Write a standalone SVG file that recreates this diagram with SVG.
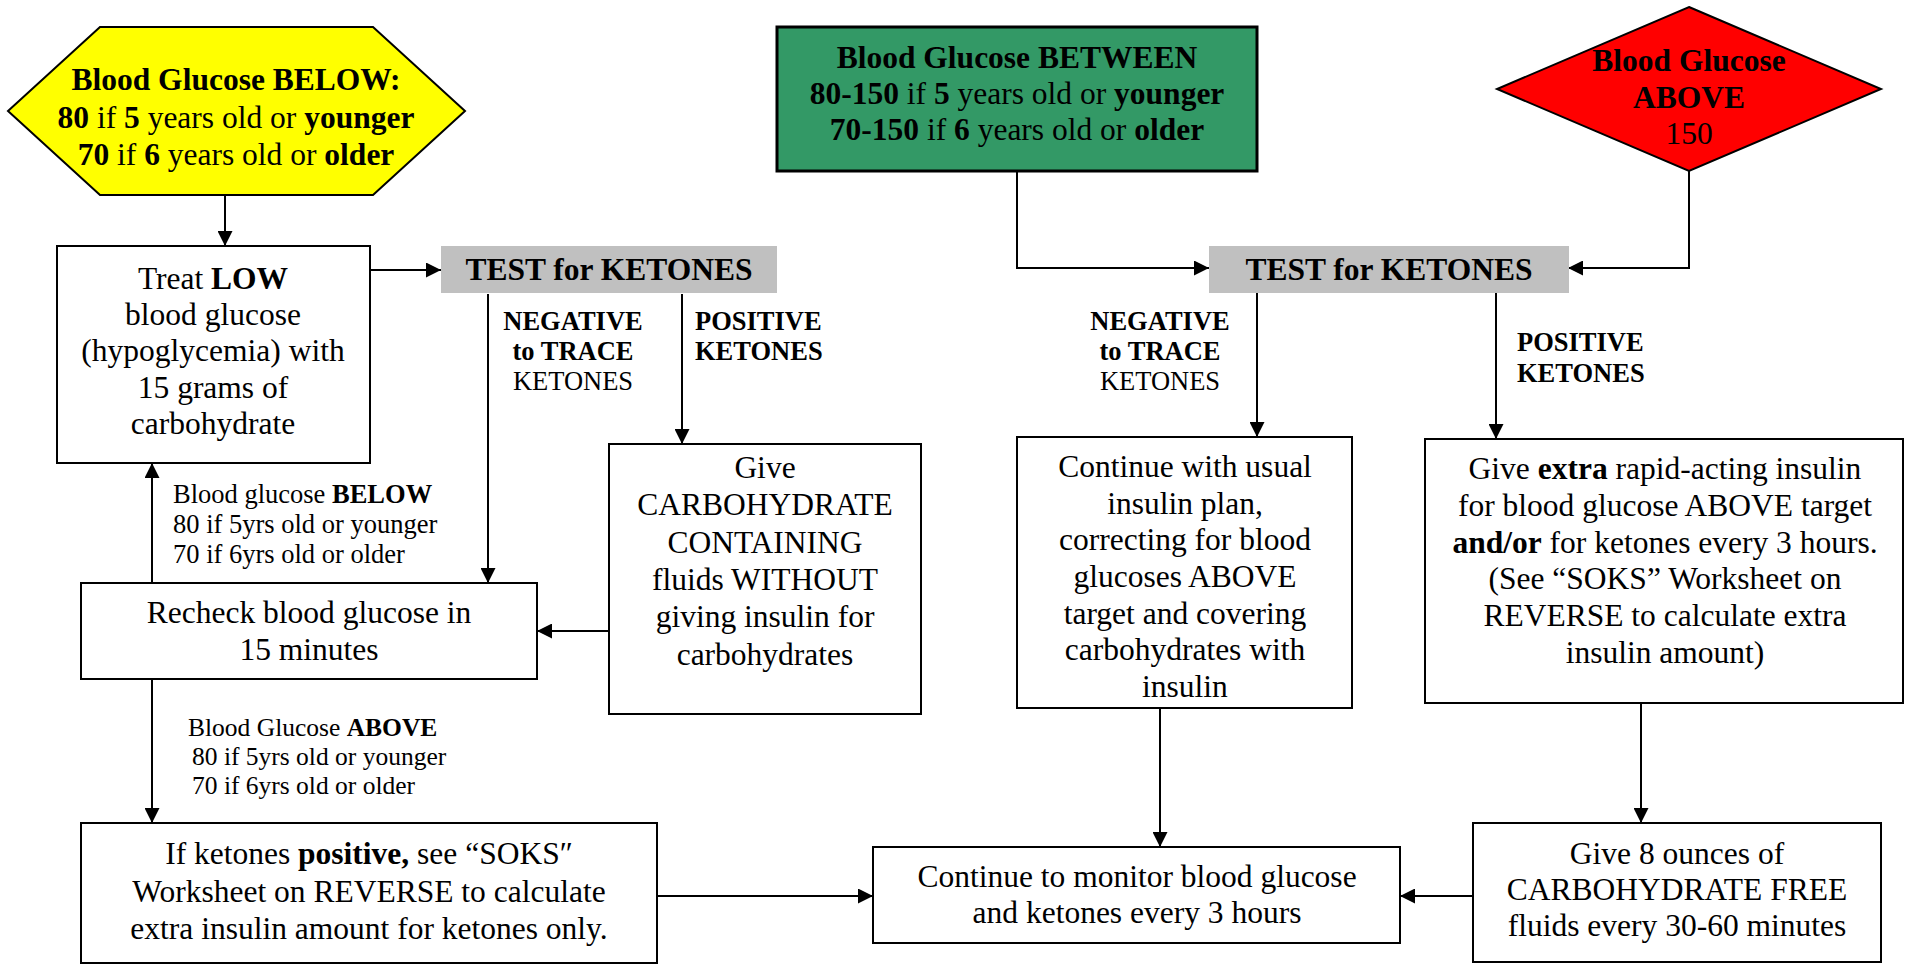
<svg xmlns="http://www.w3.org/2000/svg" width="1905" height="964" viewBox="0 0 1905 964">
<style>
text{font-family:"Liberation Serif","Times New Roman",serif;fill:#000}
.m{font-size:31.5px;text-anchor:middle}
.l{font-size:26.5px}
.lc{font-size:26.5px;text-anchor:middle}
.s{font-size:25.5px}
.b{font-weight:bold}
.box{fill:#fff;stroke:#000;stroke-width:2}
.con{fill:none;stroke:#000;stroke-width:2;marker-end:url(#arr)}
</style>
<defs>
<marker id="arr" markerUnits="userSpaceOnUse" markerWidth="15" markerHeight="15" refX="15" refY="7.5" orient="auto">
<path d="M0,0 L15,7.5 L0,15 z" fill="#000"/>
</marker>
</defs>
<rect width="1905" height="964" fill="#fff"/>

<g id="connectors">
<path class="con" d="M225,196 V246"/>
<path class="con" d="M370,270 H441"/>
<path class="con" d="M488,294 V583"/>
<path class="con" d="M682,294 V444"/>
<path class="con" d="M609,631 H537"/>
<path class="con" d="M152,583 V463"/>
<path class="con" d="M152,679 V823"/>
<path class="con" d="M657,896 H873"/>
<path class="con" d="M1017,171 V268 H1209"/>
<path class="con" d="M1689,171 V268 H1568"/>
<path class="con" d="M1257,293 V437"/>
<path class="con" d="M1496,293 V439"/>
<path class="con" d="M1160,708 V847"/>
<path class="con" d="M1641,703 V823"/>
<path class="con" d="M1473,896 H1400"/>
</g>

<g id="below">
<polygon points="100,27 373,27 465,111 373,195 100,195 8,111" fill="#ffff00" stroke="#000" stroke-width="2"/>
<text class="m b" x="236" y="90">Blood Glucose BELOW:</text>
<text class="m" x="236" y="127.5"><tspan class="b">80</tspan> if <tspan class="b">5</tspan> years old or <tspan class="b">younger</tspan></text>
<text class="m" x="236" y="165"><tspan class="b">70</tspan> if <tspan class="b">6</tspan> years old or <tspan class="b">older</tspan></text>
</g>

<g id="between">
<rect x="777" y="27" width="480" height="144" fill="#339966" stroke="#000" stroke-width="3"/>
<text class="m b" x="1017" y="68">Blood Glucose BETWEEN</text>
<text class="m" x="1017" y="104"><tspan class="b">80-150</tspan> if <tspan class="b">5</tspan> years old or <tspan class="b">younger</tspan></text>
<text class="m" x="1017" y="140"><tspan class="b">70-150</tspan> if <tspan class="b">6</tspan> years old or <tspan class="b">older</tspan></text>
</g>

<g id="above">
<polygon points="1689,7 1881,89 1689,171 1497,89" fill="#ff0000" stroke="#000" stroke-width="2"/>
<text class="m b" x="1689" y="71">Blood Glucose</text>
<text class="m b" x="1689" y="108">ABOVE</text>
<text class="m" x="1689" y="144">150</text>
</g>

<g id="treat-low">
<rect class="box" x="57" y="246" width="313" height="217"/>
<text class="m" x="213" y="289">Treat <tspan class="b">LOW</tspan></text>
<text class="m" x="213" y="325">blood glucose</text>
<text class="m" x="213" y="361">(hypoglycemia) with</text>
<text class="m" x="213" y="398">15 grams of</text>
<text class="m" x="213" y="434">carbohydrate</text>
</g>

<g id="test-1">
<rect x="441" y="246" width="336" height="47" fill="#c0c0c0"/>
<text class="m b" x="609" y="280">TEST for KETONES</text>
</g>

<g id="test-2">
<rect x="1209" y="246" width="360" height="47" fill="#c0c0c0"/>
<text class="m b" x="1389" y="280">TEST for KETONES</text>
</g>

<g id="give-carb">
<rect class="box" x="609" y="444" width="312" height="270"/>
<text class="m" x="765" y="478">Give</text>
<text class="m" x="765" y="515">CARBOHYDRATE</text>
<text class="m" x="765" y="553">CONTAINING</text>
<text class="m" x="765" y="590">fluids WITHOUT</text>
<text class="m" x="765" y="627">giving insulin for</text>
<text class="m" x="765" y="665">carbohydrates</text>
</g>

<g id="recheck">
<rect class="box" x="81" y="583" width="456" height="96"/>
<text class="m" x="309" y="623">Recheck blood glucose in</text>
<text class="m" x="309" y="660">15 minutes</text>
</g>

<g id="if-ketones">
<rect class="box" x="81" y="823" width="576" height="140"/>
<text class="m" x="369" y="864">If ketones <tspan class="b">positive,</tspan> see “SOKS″</text>
<text class="m" x="369" y="902">Worksheet on REVERSE to calculate</text>
<text class="m" x="369" y="939">extra insulin amount for ketones only.</text>
</g>

<g id="continue-usual">
<rect class="box" x="1017" y="437" width="335" height="271"/>
<text class="m" x="1185" y="477">Continue with usual</text>
<text class="m" x="1185" y="514">insulin plan,</text>
<text class="m" x="1185" y="550">correcting for blood</text>
<text class="m" x="1185" y="587">glucoses ABOVE</text>
<text class="m" x="1185" y="624">target and covering</text>
<text class="m" x="1185" y="660">carbohydrates with</text>
<text class="m" x="1185" y="697">insulin</text>
</g>

<g id="give-extra">
<rect class="box" x="1425" y="439" width="478" height="264"/>
<text class="m" x="1665" y="479">Give <tspan class="b">extra</tspan> rapid-acting insulin</text>
<text class="m" x="1665" y="516">for blood glucose ABOVE target</text>
<text class="m" x="1665" y="553"><tspan class="b">and/or</tspan> for ketones every 3 hours.</text>
<text class="m" x="1665" y="589">(See “SOKS” Worksheet on</text>
<text class="m" x="1665" y="626">REVERSE to calculate extra</text>
<text class="m" x="1665" y="663">insulin amount)</text>
</g>

<g id="monitor">
<rect class="box" x="873" y="847" width="527" height="96"/>
<text class="m" x="1137" y="887">Continue to monitor blood glucose</text>
<text class="m" x="1137" y="923">and ketones every 3 hours</text>
</g>

<g id="give-free">
<rect class="box" x="1473" y="823" width="408" height="139"/>
<text class="m" x="1677" y="864">Give 8 ounces of</text>
<text class="m" x="1677" y="900">CARBOHYDRATE FREE</text>
<text class="m" x="1677" y="936">fluids every 30-60 minutes</text>
</g>

<g id="labels">
<text class="lc b" x="573" y="330">NEGATIVE</text>
<text class="lc b" x="573" y="360">to TRACE</text>
<text class="lc" x="573" y="390">KETONES</text>
<text class="l b" x="695" y="330">POSITIVE</text>
<text class="l b" x="695" y="360">KETONES</text>
<text class="lc b" x="1160" y="330">NEGATIVE</text>
<text class="lc b" x="1160" y="360">to TRACE</text>
<text class="lc" x="1160" y="390">KETONES</text>
<text class="l b" x="1517" y="351">POSITIVE</text>
<text class="l b" x="1517" y="382">KETONES</text>
<text class="l" x="173" y="503">Blood glucose <tspan class="b">BELOW</tspan></text>
<text class="l" x="173" y="533">80 if 5yrs old or younger</text>
<text class="l" x="173" y="563">70 if 6yrs old or older</text>
<text class="s" x="188" y="736">Blood Glucose <tspan class="b">ABOVE</tspan></text>
<text class="s" x="192" y="765">80 if 5yrs old or younger</text>
<text class="s" x="192" y="794">70 if 6yrs old or older</text>
</g>
</svg>
